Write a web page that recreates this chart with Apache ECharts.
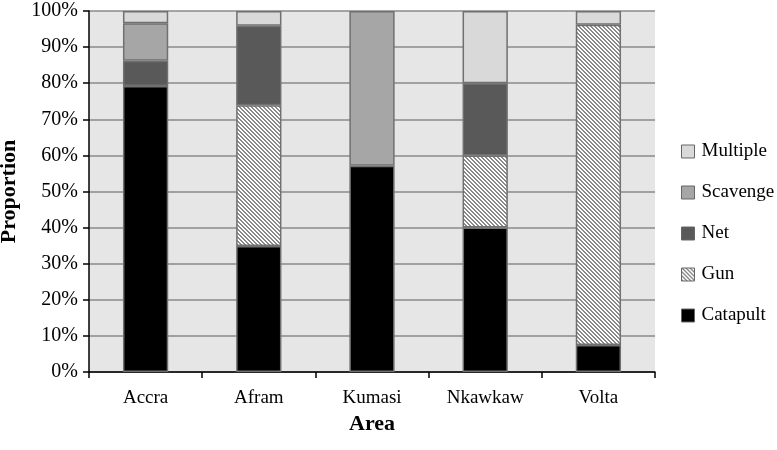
<!DOCTYPE html>
<html>
<head>
<meta charset="utf-8">
<script src="https://cdn.jsdelivr.net/npm/echarts@6/dist/echarts.min.js"></script>
<style>html,body{margin:0;padding:0;background:#fff}#c{width:777px;height:450px}</style>
</head>
<body>
<div id="c"></div>
<script>
var categories = ['Accra', 'Afram', 'Kumasi', 'Nkawkaw', 'Volta'];
var catapult = [79.2, 34.9, 57.1, 40.0, 7.5];
var gun      = [0, 39.0, 0, 20.0, 88.7];
var net      = [7.0, 22.0, 0, 20.0, 0];
var scavenge = [10.4, 0, 42.9, 0, 0];
var multiple = [3.4, 4.1, 0, 20.0, 3.8];
var legendOrder = ['Multiple', 'Scavenge', 'Net', 'Gun', 'Catapult'];

var FONT = '"Liberation Serif", "DejaVu Serif", serif';

// hatch pattern for Gun
var tile = document.createElement('canvas');
tile.width = 4; tile.height = 4;
var tc = tile.getContext('2d');
tc.fillStyle = '#ffffff'; tc.fillRect(0, 0, 4, 4);
tc.fillStyle = '#8a8a8a';
for (var i = 0; i < 4; i++) {
  tc.fillRect(i, i, 1, 1);
  tc.fillRect((i + 1) % 4, i, 1, 1);
}
var gunFill = { image: tile, repeat: 'repeat' };

function mk(name, data, color) {
  return {
    name: name, type: 'bar', stack: 'all',
    data: data.map(function (v) { return v === 0 ? '-' : v; }),
    barWidth: '40%',
    itemStyle: { color: color, borderColor: '#707070', borderWidth: 1.5 },
    emphasis: { disabled: true }
  };
}

var chart = echarts.init(document.getElementById('c'), null, { renderer: 'canvas' });
chart.setOption({
  animation: false,
  backgroundColor: '#fff',
  grid: { left: 89, right: 122, top: 11, bottom: 78, show: true, backgroundColor: '#e6e6e6', borderWidth: 0, containLabel: false, outerBoundsMode: 'none' },
  legend: {
    orient: 'vertical', left: 681, top: 142, padding: 0, itemWidth: 13, itemHeight: 13, itemGap: 22,
    icon: 'rect',
    data: legendOrder,
    textStyle: { fontFamily: FONT, fontSize: 19, color: '#000', padding: [0, 0, 0, 2] },
    itemStyle: { borderColor: '#666', borderWidth: 1 }
  },
  xAxis: {
    type: 'category', data: categories,
    name: 'Area', nameLocation: 'middle', nameGap: 36,
    nameTextStyle: { fontFamily: FONT, fontSize: 22, fontWeight: 'bold', color: '#000' },
    axisLine: { lineStyle: { color: '#000', width: 1.5 } },
    axisTick: { show: true, length: 6, lineStyle: { color: '#000', width: 1.5 } },
    axisLabel: { fontFamily: FONT, fontSize: 19, color: '#000', margin: 17 }
  },
  yAxis: {
    type: 'value', min: 0, max: 100, interval: 10,
    name: 'Proportion', nameLocation: 'middle', nameGap: 59,
    nameTextStyle: { fontFamily: FONT, fontSize: 22, fontWeight: 'bold', color: '#000' },
    axisLine: { show: true, lineStyle: { color: '#000', width: 1.5 } },
    axisTick: { show: true, length: 6, lineStyle: { color: '#000', width: 1.5 } },
    axisLabel: { formatter: '{value}%', fontFamily: FONT, fontSize: 20, color: '#000', margin: 11 },
    splitLine: { lineStyle: { color: '#8a8a8a', width: 1.5 } }
  },
  series: [
    mk('Catapult', catapult, '#000000'),
    mk('Gun', gun, gunFill),
    mk('Net', net, '#595959'),
    mk('Scavenge', scavenge, '#a6a6a6'),
    mk('Multiple', multiple, '#d9d9d9')
  ]
});
</script>
</body>
</html>
